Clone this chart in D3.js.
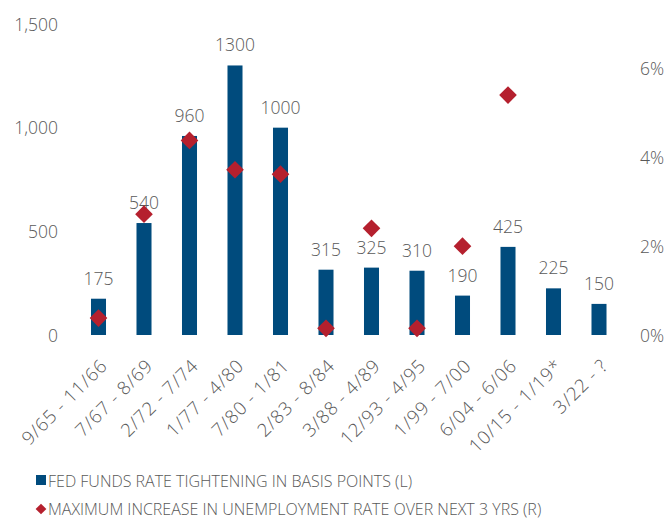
<!DOCTYPE html>
<html>
<head>
<meta charset="utf-8">
<script src="https://cdn.jsdelivr.net/npm/d3@7"></script>
<style>
  html, body { margin: 0; padding: 0; background: #fff; }
  svg text { font-family: "Open Sans", "Noto Sans", sans-serif; fill: #595959; font-weight: 300; }
</style>
</head>
<body>
<svg id="chart" width="669" height="523"></svg>
<script>
const categories = ["9/65 - 11/66", "7/67 - 8/69", "2/72 - 7/74", "1/77 - 4/80", "7/80 - 1/81", "2/83 - 8/84", "3/88 - 4/89", "12/93 - 4/95", "1/99 - 7/00", "6/04 - 6/06", "10/15 - 1/19*", "3/22 - ?"];
const tighteningBp = [175, 540, 960, 1300, 1000, 315, 325, 310, 190, 425, 225, 150];
const unemploymentIncrease = [0.38, 2.72, 4.38, 3.72, 3.62, 0.15, 2.4, 0.15, 2.0, 5.4, null, null];
const leftTicks = [0, 500, 1000, 1500];
const rightTicks = [0, 2, 4, 6];
const legendLabels = ["FED FUNDS RATE TIGHTENING IN BASIS POINTS (L)", "MAXIMUM INCREASE IN UNEMPLOYMENT RATE OVER NEXT 3 YRS (R)"];

const barColor = "#004b7d";
const diamondColor = "#b5202e";

const svg = d3.select("#chart");

const x = d3.scaleBand().domain(categories).range([75.75, 621.75]).paddingInner(0.67).paddingOuter(0.335);
const yL = d3.scaleLinear().domain([0, 1500]).range([335, 24]);
const yR = d3.scaleLinear().domain([0, 7]).range([335, 24]);

// Left axis
const leftAxis = d3.axisLeft(yL).tickValues(leftTicks).tickFormat(d3.format(",")).tickSize(0).tickPadding(0);
const gL = svg.append("g").attr("transform", "translate(58,0)").call(leftAxis);
gL.select(".domain").remove();
gL.selectAll("text").style("font-size", "17.5px").attr("fill", "#595959").attr("dy", "0.35em");

// Right axis
const rightAxis = d3.axisRight(yR).tickValues(rightTicks).tickFormat(d => d + "%").tickSize(0).tickPadding(0);
const gR = svg.append("g").attr("transform", "translate(640,0)").call(rightAxis);
gR.select(".domain").remove();
gR.selectAll("text").style("font-size", "17.5px").attr("fill", "#595959").attr("dy", "0.35em");

// Bars
svg.append("g").selectAll("rect").data(categories).join("rect")
  .attr("x", d => x(d))
  .attr("width", x.bandwidth())
  .attr("y", (d, i) => yL(tighteningBp[i]))
  .attr("height", (d, i) => yL(0) - yL(tighteningBp[i]))
  .attr("fill", barColor);

// Bar value labels
svg.append("g").selectAll("text").data(categories).join("text")
  .attr("x", d => x(d) + x.bandwidth() / 2)
  .attr("y", (d, i) => yL(tighteningBp[i]) - 14)
  .attr("text-anchor", "middle")
  .style("font-size", "17.5px")
  .text((d, i) => tighteningBp[i]);

// Diamonds
const dSize = 12.5;
svg.append("g").selectAll("rect").data(categories.filter((d, i) => unemploymentIncrease[i] != null)).join("rect")
  .attr("x", -dSize / 2).attr("y", -dSize / 2)
  .attr("width", dSize).attr("height", dSize)
  .attr("fill", diamondColor)
  .attr("transform", d => {
    const i = categories.indexOf(d);
    return `translate(${x(d) + x.bandwidth() / 2},${yR(unemploymentIncrease[i])}) rotate(45)`;
  });

// X axis labels
const xAxis = d3.axisBottom(x).tickSize(0).tickPadding(0);
const gX = svg.append("g").attr("transform", "translate(0,367)").call(xAxis);
gX.select(".domain").remove();
gX.selectAll("text")
  .style("font-size", "18.5px")
  .style("letter-spacing", "0.8px")
  .attr("fill", "#595959")
  .attr("text-anchor", "end")
  .attr("dy", 0)
  .attr("transform", "translate(10,0) rotate(-45)");

// Legend
const lg = svg.append("g");
lg.append("rect").attr("x", 36).attr("y", 475).attr("width", 10).attr("height", 10).attr("fill", barColor);
lg.append("text").attr("x", 48).attr("y", 487).style("font-size", "16px").text(legendLabels[0]);
lg.append("rect").attr("x", -3.8).attr("y", -3.8).attr("width", 7.6).attr("height", 7.6)
  .attr("fill", diamondColor).attr("transform", "translate(41,509) rotate(45)");
lg.append("text").attr("x", 48).attr("y", 515).style("font-size", "16px").text(legendLabels[1]);
</script>
</body>
</html>
